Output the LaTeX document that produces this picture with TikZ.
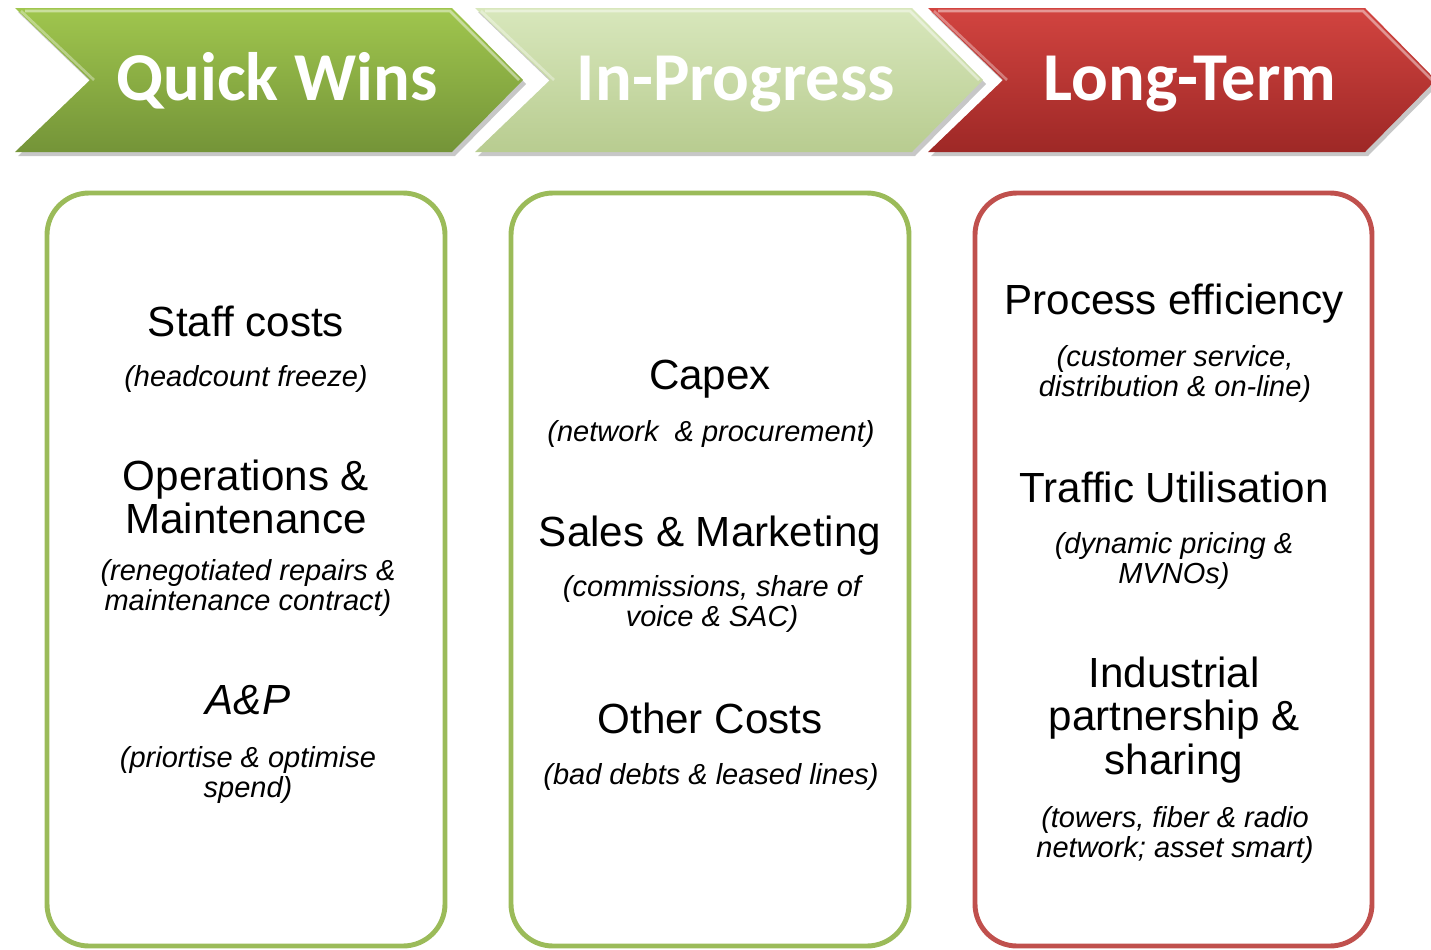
\documentclass[tikz,border=0pt]{standalone}
\usepackage{fontspec}
\setmainfont{Liberation Sans}
\newfontfamily\hdfont{Carlito}
\usepackage{tikz}
\definecolor{qwtop}{RGB}{160,198,78}
\definecolor{qwbot}{RGB}{116,148,56}
\definecolor{iptop}{RGB}{216,231,188}
\definecolor{ipbot}{RGB}{184,204,144}
\definecolor{lttop}{RGB}{210,68,64}
\definecolor{ltbot}{RGB}{158,40,38}
\definecolor{gline}{RGB}{155,187,89}
\definecolor{rline}{RGB}{192,80,77}
% chevron: left x, top colour, bottom colour
\def\Chev#1#2#3{\fill[black,opacity=.22] (#1+3,12) -- ++(437,0) -- ++(71,72) -- ++(-71,72) -- ++(-437,0) -- ++(75,-72) -- cycle;
  \shade[top color=#2,bottom color=#3] (#1,8) -- ++(437,0) -- ++(71,72) -- ++(-71,72) -- ++(-437,0) -- ++(75,-72) -- cycle;
  \draw[white,opacity=.45,line width=1.5pt] (#1+10,11) -- ++(425,0) -- ++(69,69);
  \draw[white,opacity=.35,line width=1.5pt] (#1+6,11) -- ++(73,69);}

\begin{document}
\begin{tikzpicture}[x=0.02cm,y=-0.02cm,
  hd/.style={font=\hdfont\bfseries\fontsize{39}{39}\selectfont,text=white,anchor=base},
  ttl/.style={font=\fontsize{24}{24.6}\selectfont,align=center},
  sub/.style={font=\fontsize{16.5}{17}\selectfont\itshape,align=center},
  gbox/.style={draw=gline,line width=2.8pt,rounded corners=0.84cm},
  rbox/.style={draw=rline,line width=2.8pt,rounded corners=0.84cm}]
\useasboundingbox (0,0) rectangle (1431,950);

% the three phase arrows
\Chev{15}{qwtop}{qwbot}
\Chev{475}{iptop}{ipbot}
\Chev{928}{lttop}{ltbot}
\node[hd] (qw) at (277,100) {Quick Wins};
\node[hd] (ip) at (736,100) {In-Progress};
\node[hd] (lt) at (1190,100) {Long-Term};

% columns
\draw[gbox] (47,193) rectangle (445,946);
\draw[gbox] (511,193) rectangle (909,946);
\draw[rbox] (975,193) rectangle (1372,946);

% quick wins
\node[ttl] (staff) at (246,321) {Staff costs};
\node[sub] (staffs) at (246,379) {(headcount freeze)};
\node[ttl] (om) at (246,497) {Operations \&\\Maintenance};
\node[sub] (oms) at (248,588) {(renegotiated repairs \&\\maintenance contract)};
\node[ttl,font=\fontsize{24}{24}\selectfont\itshape] (ap) at (248,700) {A\&P};
\node[sub] (aps) at (248,775) {(priortise \& optimise\\spend)};

% in progress
\node[ttl] (capex) at (710,379) {Capex};
\node[sub] (capexs) at (711,434) {(network\ \ \& procurement)};
\node[ttl] (sales) at (710,536) {Sales \& Marketing};
\node[sub] (saless) at (712,604) {(commissions, share of\\voice \& SAC)};
\node[ttl] (other) at (710,718) {Other Costs};
\node[sub] (others) at (711,777) {(bad debts \& leased lines)};

% long term
\node[ttl] (proc) at (1174,304) {Process efficiency};
\node[sub] (procs) at (1175,374) {(customer service,\\distribution \& on-line)};
\node[ttl] (traf) at (1174,487) {Traffic Utilisation};
\node[sub] (trafs) at (1174,561) {(dynamic pricing \&\\MVNOs)};
\node[ttl] (ind) at (1174,720) {Industrial\\partnership \&\\sharing};
\node[sub] (inds) at (1175,835) {(towers, fiber \& radio\\network; asset smart)};
\end{tikzpicture}
\end{document}
